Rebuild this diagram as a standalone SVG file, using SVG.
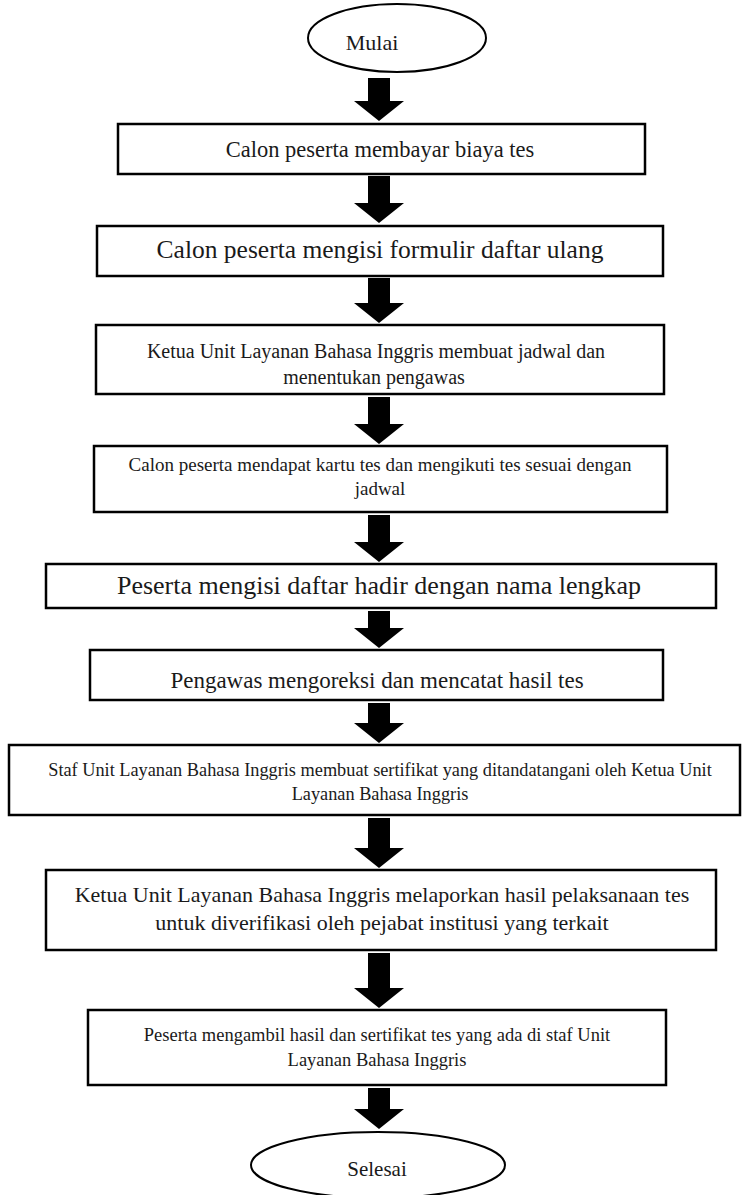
<svg xmlns="http://www.w3.org/2000/svg" width="750" height="1195" viewBox="0 0 750 1195">
<style>
.box{fill:#fff;stroke:#000;stroke-width:2.5}
.term{fill:#fff;stroke:#000;stroke-width:2}
.arrow{fill:#000;stroke:none}
text{font-family:"Liberation Serif","Times New Roman",serif;fill:#1a1a1a;text-anchor:middle}
</style>
<rect width="750" height="1195" fill="#fff"/>
<g id="connectors">
<path class="arrow" d="M368,78H390V101H404L379,121L354,101H368Z"/>
<path class="arrow" d="M368,176H390V203H404L379,223L354,203H368Z"/>
<path class="arrow" d="M368,278H390V303H404L379,323L354,303H368Z"/>
<path class="arrow" d="M368,397H390V424H404L379,444L354,424H368Z"/>
<path class="arrow" d="M368,515H390V542H404L379,562L354,542H368Z"/>
<path class="arrow" d="M368,611H390V628H404L379,648L354,628H368Z"/>
<path class="arrow" d="M368,703H390V723H404L379,743L354,723H368Z"/>
<path class="arrow" d="M368,818H390V848H404L379,868L354,848H368Z"/>
<path class="arrow" d="M368,953H390V988H404L379,1008L354,988H368Z"/>
<path class="arrow" d="M368,1088H390V1109H404L379,1129L354,1109H368Z"/>
</g>
<g id="start">
<ellipse class="term" cx="397" cy="38" rx="89" ry="34"/>
<text x="372" y="50" font-size="22">Mulai</text>
</g>
<g id="step1">
<rect class="box" x="118" y="124" width="527" height="50"/>
<text x="380" y="157" font-size="22.5">Calon peserta membayar biaya tes</text>
</g>
<g id="step2">
<rect class="box" x="97" y="226" width="566" height="50"/>
<text x="380" y="258" font-size="25.5">Calon peserta mengisi formulir daftar ulang</text>
</g>
<g id="step3">
<rect class="box" x="96" y="325" width="568" height="69"/>
<text x="376" y="358" font-size="20">Ketua Unit Layanan Bahasa Inggris membuat jadwal dan</text>
<text x="374" y="384" font-size="20">menentukan pengawas</text>
</g>
<g id="step4">
<rect class="box" x="94" y="446" width="573" height="66"/>
<text x="380" y="471" font-size="19">Calon peserta mendapat kartu tes dan mengikuti tes sesuai dengan</text>
<text x="380" y="495" font-size="19">jadwal</text>
</g>
<g id="step5">
<rect class="box" x="46" y="564" width="670" height="44"/>
<text x="379" y="594" font-size="26">Peserta mengisi daftar hadir dengan nama lengkap</text>
</g>
<g id="step6">
<rect class="box" x="90" y="650" width="573" height="50"/>
<text x="377" y="688" font-size="23">Pengawas mengoreksi dan mencatat hasil tes</text>
</g>
<g id="step7">
<rect class="box" x="9" y="745" width="731" height="70"/>
<text x="380" y="776" font-size="18.3">Staf Unit Layanan Bahasa Inggris membuat sertifikat yang ditandatangani oleh Ketua Unit</text>
<text x="380" y="800" font-size="18.3">Layanan Bahasa Inggris</text>
</g>
<g id="step8">
<rect class="box" x="46" y="870" width="670" height="80"/>
<text x="382" y="902" font-size="22">Ketua Unit Layanan Bahasa Inggris melaporkan hasil pelaksanaan tes</text>
<text x="382" y="930" font-size="22">untuk diverifikasi oleh pejabat institusi yang terkait</text>
</g>
<g id="step9">
<rect class="box" x="88" y="1010" width="578" height="75"/>
<text x="377" y="1041" font-size="18.5">Peserta mengambil hasil dan sertifikat tes yang ada di staf Unit</text>
<text x="377" y="1066" font-size="18.5">Layanan Bahasa Inggris</text>
</g>
<g id="end">
<ellipse class="term" cx="378" cy="1165" rx="127" ry="33"/>
<text x="377" y="1176" font-size="21">Selesai</text>
</g>
</svg>
